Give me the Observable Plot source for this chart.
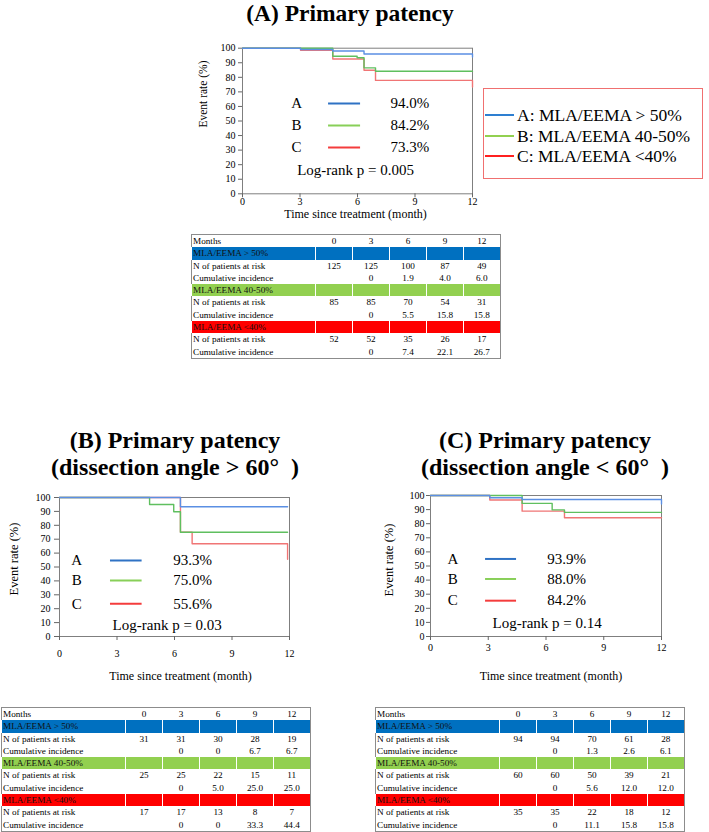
<!DOCTYPE html>
<html>
<head>
<meta charset="utf-8">
<script src="https://cdn.jsdelivr.net/npm/d3@7"></script>
<script src="https://cdn.jsdelivr.net/npm/@observablehq/plot@0.6"></script>
<style>
  html, body { margin: 0; padding: 0; background: #fff; }
  #fig { position: relative; width: 709px; height: 832px; overflow: hidden;
         font-family: "Liberation Serif", "Times New Roman", serif; color: #000; }
  .title { position: absolute; font-weight: bold; font-size: 24px; line-height: 27px;
           text-align: center; white-space: pre; }
  .title.single { font-size: 23.5px; line-height: 22px; }
  .chart { position: absolute; }
  .legend { position: absolute; border: 1px solid #f07070; box-sizing: border-box; background: #fff;
            font-family: "Liberation Serif", "Times New Roman", serif; }
  .legend .row { position: absolute; left: 0; height: 20px; line-height: 20px; font-size: 17.5px; white-space: nowrap; }
  .legend .swatch { position: absolute; left: 1px; top: 9px; width: 29px; height: 2px; }
  .legend .txt { position: absolute; left: 33px; top: 0; }
  table.risk { position: absolute; border-collapse: collapse; table-layout: fixed;
               font-family: "Liberation Serif", "Times New Roman", serif;
               font-size: 9.2px; border: 1px solid #8c8c8c; }
  table.risk td { padding: 0; height: 12.3px; line-height: 12.3px; white-space: nowrap; overflow: hidden; }
  table.risk td.lab { text-align: left; padding-left: 1px; }
  table.risk td.val { text-align: center; }
  table.risk tr.band td { border-left: 1px solid #fff; color: #111; }
</style>
</head>
<body>
<div id="fig"></div>
<script>
// ---- shared categories and ticks ----
const months = [0, 3, 6, 9, 12];
const yTicks = [0, 10, 20, 30, 40, 50, 60, 70, 80, 90, 100];
const groupNames = ["A", "B", "C"];
const groupDefs = ["MLA/EEMA > 50%", "MLA/EEMA 40-50%", "MLA/EEMA <40%"];

// ---- (A) all lesions: Kaplan–Meier steps (months, patency %) ----
const all_tA = [0, 3.03, 4.71, 6.34, 12, 12];
const all_sA = [100, 99.1, 98.1, 96.0, 96.0, 94.0];
const all_tB = [0, 4.71, 5.98, 6.34, 6.94, 12];
const all_sB = [100, 94.5, 93.4, 86.5, 84.2, 84.2];
const all_tC = [0, 3.03, 4.71, 6.34, 6.94, 12, 12];
const all_sC = [100, 98.6, 92.6, 84.9, 77.9, 77.9, 73.3];
const all_rates = [94.0, 84.2, 73.3];
const all_p = "0.005";
const all_nA = [125, 125, 100, 87, 49];
const all_nB = [85, 85, 70, 54, 31];
const all_nC = [52, 52, 35, 26, 17];
const all_cumA = [null, 0, 1.9, 4.0, 6.0];
const all_cumB = [null, 0, 5.5, 15.8, 15.8];
const all_cumC = [null, 0, 7.4, 22.1, 26.7];

// ---- (B) dissection angle > 60° ----
const gt60_tA = [0, 6.31, 11.9];
const gt60_sA = [100, 93.3, 93.3];
const gt60_tB = [0, 4.70, 5.96, 6.31, 11.9];
const gt60_sB = [100, 95.0, 89.7, 75.0, 75.0];
const gt60_tC = [0, 6.31, 6.92, 11.9, 11.9];
const gt60_sC = [100, 75.0, 66.7, 66.7, 55.6];
const gt60_rates = [93.3, 75.0, 55.6];
const gt60_p = "0.03";
const gt60_nA = [31, 31, 30, 28, 19];
const gt60_nB = [25, 25, 22, 15, 11];
const gt60_nC = [17, 17, 13, 8, 7];
const gt60_cumA = [null, 0, 0, 6.7, 6.7];
const gt60_cumB = [null, 0, 5.0, 25.0, 25.0];
const gt60_cumC = [null, 0, 0, 33.3, 44.4];

// ---- (C) dissection angle < 60° ----
const lt60_tA = [0, 3.08, 4.76, 12, 12];
const lt60_sA = [100, 98.4, 97.2, 97.2, 93.9];
const lt60_tB = [0, 4.76, 6.32, 6.96, 12];
const lt60_sB = [100, 94.4, 89.8, 88.0, 88.0];
const lt60_tC = [0, 3.08, 4.76, 6.96, 12];
const lt60_sC = [100, 96.8, 88.9, 84.2, 84.2];
const lt60_rates = [93.9, 88.0, 84.2];
const lt60_p = "0.14";
const lt60_nA = [94, 94, 70, 61, 28];
const lt60_nB = [60, 60, 50, 39, 21];
const lt60_nC = [35, 35, 22, 18, 12];
const lt60_cumA = [null, 0, 1.3, 2.6, 6.1];
const lt60_cumB = [null, 0, 5.6, 12.0, 12.0];
const lt60_cumC = [null, 0, 11.1, 15.8, 15.8];

// ---- colours ----
const curveColors = ["#5b8fe3", "#5fbf5f", "#f07575"];
const keyColors = ["#2f72c4", "#88cf58", "#f43c3c"];
const boxColors = ["#2e7fd1", "#92d050", "#ff2020"];
const bandColors = ["#0070c0", "#92d050", "#ff0000"];

const serif = '"Liberation Serif", "Times New Roman", serif';
const fig = document.getElementById("fig");

function place(el, left, top) {
  el.style.left = left + "px";
  el.style.top = top + "px";
  fig.appendChild(el);
  return el;
}

function addTitle(text, left, top, width, extraClass) {
  const d = document.createElement("div");
  d.className = "title" + (extraClass ? " " + extraClass : "");
  d.style.width = width + "px";
  d.textContent = text;
  place(d, left, top);
}

// Kaplan–Meier panel with in-plot key and log-rank note
function kmPlot(cfg) {
  const rows = [];
  cfg.curves.forEach((c, i) =>
    c.t.forEach((t, j) => rows.push({group: groupNames[i], t, s: c.s[j]}))
  );
  const keyRows = groupNames.map((g, i) => ({g, i, y: cfg.keyY[i], rate: cfg.rates[i]}));
  const marks = [
    Plot.frame({stroke: "#7f7f7f"}),
    Plot.axisY({ticks: yTicks, tickSize: cfg.yTickSize, tickPadding: cfg.yTickPad,
                label: null, stroke: "#666", fill: "#000", fontSize: 10}),
    Plot.axisX({ticks: months, tickSize: 4, tickPadding: cfg.xTickPad,
                label: null, stroke: "#666", fill: "#000", fontSize: 10})
  ];
  // red first, blue last so blue sits on top
  [2, 1, 0].forEach(i => {
    marks.push(Plot.line(rows.filter(r => r.group === groupNames[i]),
      {x: "t", y: "s", curve: "step-after", stroke: curveColors[i], strokeWidth: 1.4}));
  });
  keyRows.forEach(k => {
    marks.push(Plot.ruleY([k], {y: "y", x1: cfg.swatchX[0], x2: cfg.swatchX[1],
      stroke: keyColors[k.i], strokeWidth: 2}));
  });
  marks.push(
    Plot.text(keyRows, {x: cfg.letterX, y: "y", text: "g", fontSize: 15}),
    Plot.text(keyRows, {x: cfg.rateX, y: "y", text: d => d.rate.toFixed(1) + "%",
                        textAnchor: "start", fontSize: 15}),
    Plot.text([`Log-rank p = ${cfg.p}`], {x: cfg.pX, y: cfg.pY, text: d => d, fontSize: 15}),
    Plot.text(["Time since treatment (month)"], {frameAnchor: "bottom", textAnchor: "middle",
              lineAnchor: "middle", dx: cfg.xTitleDx, dy: cfg.xTitleDy, text: d => d, fontSize: 12}),
    Plot.text(["Event rate (%)"], {frameAnchor: "left", textAnchor: "middle", lineAnchor: "middle",
              rotate: -90, dx: cfg.yTitleDx, dy: cfg.yTitleDy, text: d => d, fontSize: cfg.yTitleSize})
  );
  const svg = Plot.plot({
    width: cfg.width, height: cfg.height,
    marginLeft: cfg.m[0], marginRight: cfg.m[1], marginTop: cfg.m[2], marginBottom: cfg.m[3],
    style: {fontFamily: serif, fontSize: "10px", background: "transparent", overflow: "visible"},
    x: {domain: [0, 12]},
    y: {domain: [0, 100]},
    marks
  });
  const wrap = document.createElement("div");
  wrap.className = "chart";
  wrap.appendChild(svg);
  place(wrap, cfg.left, cfg.top);
}

function fmtCum(v) {
  if (v == null) return "";
  return v === 0 ? "0" : v.toFixed(1);
}

// number-at-risk / cumulative incidence table
function riskTable(left, top, nArr, cumArr) {
  const t = document.createElement("table");
  t.className = "risk";
  t.style.width = "309px";
  const cg = document.createElement("colgroup");
  [124, 37, 37, 37, 37, 37].forEach(w => {
    const c = document.createElement("col");
    c.style.width = w + "px";
    cg.appendChild(c);
  });
  t.appendChild(cg);
  const addRow = (label, vals, bg) => {
    const tr = document.createElement("tr");
    if (bg) tr.className = "band";
    const l = document.createElement("td");
    l.className = "lab";
    l.textContent = label;
    if (bg) l.style.background = bg;
    tr.appendChild(l);
    vals.forEach(v => {
      const td = document.createElement("td");
      td.className = "val";
      td.textContent = v;
      if (bg) td.style.background = bg;
      tr.appendChild(td);
    });
    t.appendChild(tr);
  };
  addRow("Months", months.map(String));
  groupNames.forEach((g, i) => {
    addRow(groupDefs[i], months.map(() => ""), bandColors[i]);
    addRow("N of patients at risk", nArr[i].map(String));
    addRow("Cumulative incidence", cumArr[i].map(fmtCum));
  });
  place(t, left, top);
}

// ---------- (A) ----------
addTitle("(A) Primary patency", 200, 2, 300, "single");
kmPlot({
  left: 190, top: 40, width: 300, height: 185, m: [52, 18, 7.7, 31.7],
  curves: [{t: all_tA, s: all_sA}, {t: all_tB, s: all_sB}, {t: all_tC, s: all_sC}],
  rates: all_rates, p: all_p,
  yTickSize: 4, yTickPad: 3, xTickPad: 0,
  xTitleDx: -2, xTitleDy: 20, yTitleDx: -39, yTitleDy: -27, yTitleSize: 11.5,
  letterX: 2.82, keyY: [62, 46.9, 31.8], swatchX: [4.49, 6.16], rateX: 7.72, pX: 5.9, pY: 16
});

// legend box for the MLA/EEMA groups
{
  const box = document.createElement("div");
  box.className = "legend";
  box.style.width = "220px";
  box.style.height = "91px";
  const rowTops = [16, 36.5, 57];
  groupNames.forEach((g, i) => {
    const r = document.createElement("div");
    r.className = "row";
    r.style.top = rowTops[i] + "px";
    r.style.width = "218px";
    const sw = document.createElement("div");
    sw.className = "swatch";
    sw.style.background = boxColors[i];
    const tx = document.createElement("div");
    tx.className = "txt";
    tx.textContent = `${g}: ${groupDefs[i]}`;
    r.appendChild(sw);
    r.appendChild(tx);
    box.appendChild(r);
  });
  place(box, 483, 88);
}
riskTable(191, 234, [all_nA, all_nB, all_nC], [all_cumA, all_cumB, all_cumC]);

// ---------- (B) ----------
addTitle("(B) Primary patency\n(dissection angle > 60°  )", 25, 427, 300);
kmPlot({
  left: 0, top: 490, width: 300, height: 200, m: [59, 11, 7, 54],
  curves: [{t: gt60_tA, s: gt60_sA}, {t: gt60_tB, s: gt60_sB}, {t: gt60_tC, s: gt60_sC}],
  rates: gt60_rates, p: gt60_p,
  yTickSize: 5, yTickPad: 4, xTickPad: 9,
  xTitleDx: 6, xTitleDy: 40, yTitleDx: -46, yTitleDy: -8, yTitleSize: 12.5,
  letterX: 0.9, keyY: [54.7, 40.3, 23.5], swatchX: [2.66, 4.31], rateX: 5.93, pX: 5.62, pY: 7.9
});
riskTable(1, 707, [gt60_nA, gt60_nB, gt60_nC], [gt60_cumA, gt60_cumB, gt60_cumC]);

// ---------- (C) ----------
addTitle("(C) Primary patency\n(dissection angle < 60°  )", 395, 427, 300);
kmPlot({
  left: 360, top: 488, width: 330, height: 200, m: [70, 29, 7, 52],
  curves: [{t: lt60_tA, s: lt60_sA}, {t: lt60_tB, s: lt60_sB}, {t: lt60_tC, s: lt60_sC}],
  rates: lt60_rates, p: lt60_p,
  yTickSize: 4, yTickPad: 2, xTickPad: 3,
  xTitleDx: 5, xTitleDy: 40, yTitleDx: -42, yTitleDy: -6, yTitleSize: 12.5,
  letterX: 1.16, keyY: [55, 40.8, 25.4], swatchX: [2.86, 4.47], rateX: 6.06, pX: 6.06, pY: 9.3
});
riskTable(375, 707, [lt60_nA, lt60_nB, lt60_nC], [lt60_cumA, lt60_cumB, lt60_cumC]);
</script>
</body>
</html>
